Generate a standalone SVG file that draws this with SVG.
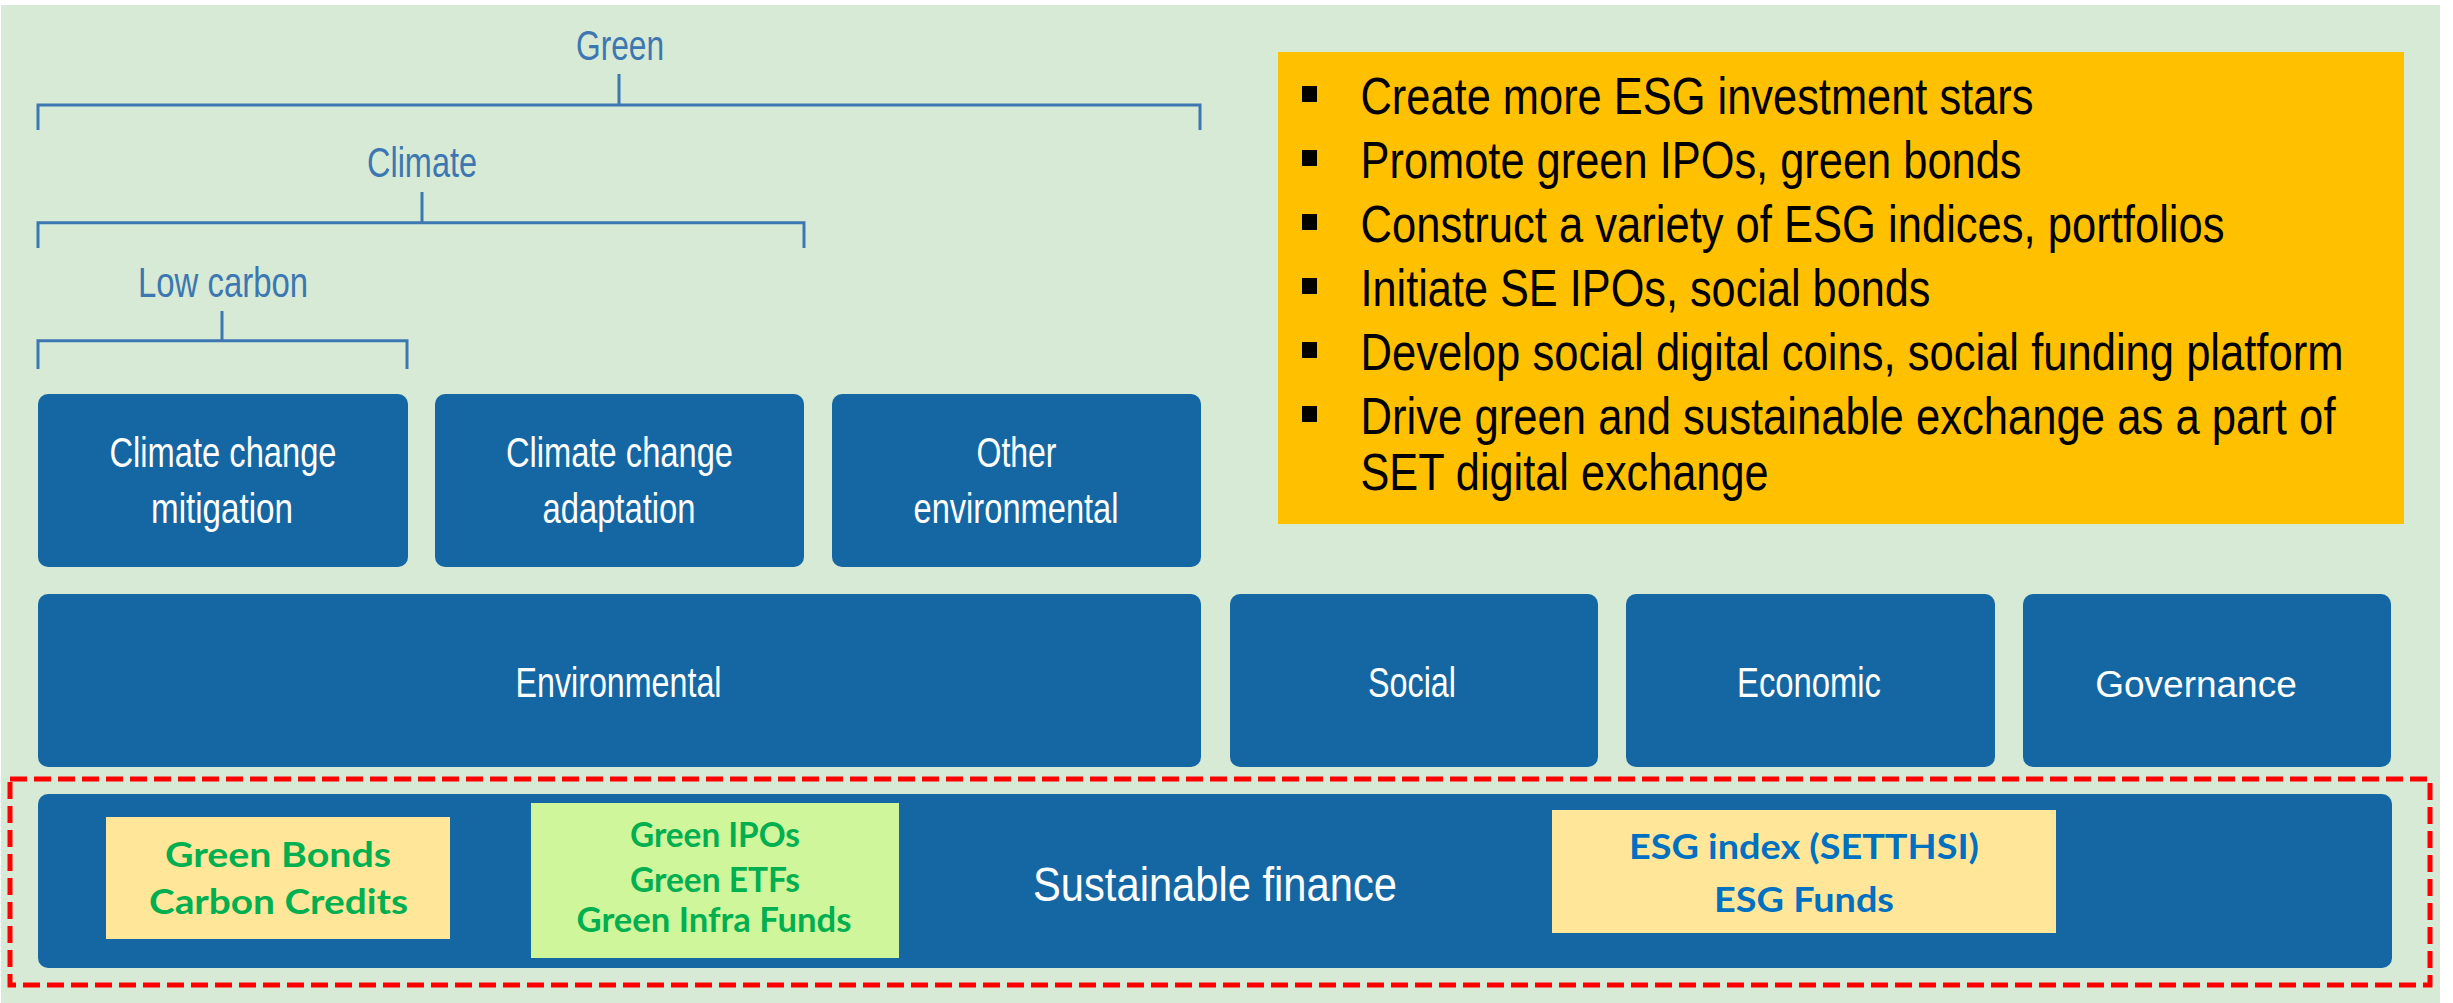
<svg xmlns="http://www.w3.org/2000/svg" width="2453" height="1003" viewBox="0 0 2453 1003">
<style>
.bg{fill:#D6EAD5}
.node{fill:#1567A4}
.conn{stroke:#3C77B1;stroke-width:3;fill:none}
.lbl{font-family:"Liberation Sans",Arial,sans-serif;font-size:43px;fill:#3C77B1;text-anchor:middle}
.nt{font-family:"Liberation Sans",Arial,sans-serif;font-size:43px;fill:#FFFFFF;text-anchor:middle}
.gov{font-family:"Liberation Sans",Arial,sans-serif;font-size:37px;fill:#FFFFFF;text-anchor:middle}
.sf{font-family:"Liberation Sans",Arial,sans-serif;font-size:49px;fill:#FFFFFF}
.bul{font-family:"Liberation Sans",Arial,sans-serif;font-size:52px;fill:#000000}
.sq{fill:#000000}
.gt{font-family:Lato,"Open Sans",sans-serif;font-weight:bold;font-size:34px;fill:#00B050;text-anchor:middle}
.bt{font-family:Lato,"Open Sans",sans-serif;font-weight:bold;font-size:34px;fill:#0070C0;text-anchor:middle}
</style>
<rect x="0" y="0" width="2453" height="1003" fill="#FFFFFF"/>
<rect class="bg" x="1" y="5" width="2439" height="998"/>

<g id="connectors">
  <path class="conn" d="M38,130 V105 H1200 V130 M619,74 V105"/>
  <path class="conn" d="M38,248 V222.7 H804 V248 M422,192 V222.7"/>
  <path class="conn" d="M38,369 V340.7 H407 V369 M222,311 V340.7"/>
</g>

<g id="label-green"><text class="lbl" x="620" y="59.5" textLength="88" lengthAdjust="spacingAndGlyphs">Green</text></g>
<g id="label-climate"><text class="lbl" x="422" y="177" textLength="110" lengthAdjust="spacingAndGlyphs">Climate</text></g>
<g id="label-lowcarbon"><text class="lbl" x="223" y="296.5" textLength="170" lengthAdjust="spacingAndGlyphs">Low carbon</text></g>

<g id="node-mitigation">
  <rect class="node" x="38" y="394" width="370" height="173" rx="10"/>
  <text class="nt" x="223" y="467.3" textLength="227" lengthAdjust="spacingAndGlyphs">Climate change</text>
  <text class="nt" x="222" y="523.3" textLength="142" lengthAdjust="spacingAndGlyphs">mitigation</text>
</g>
<g id="node-adaptation">
  <rect class="node" x="435" y="394" width="369" height="173" rx="10"/>
  <text class="nt" x="619.5" y="467.3" textLength="227" lengthAdjust="spacingAndGlyphs">Climate change</text>
  <text class="nt" x="619" y="523.3" textLength="153" lengthAdjust="spacingAndGlyphs">adaptation</text>
</g>
<g id="node-other">
  <rect class="node" x="832" y="394" width="369" height="173" rx="10"/>
  <text class="nt" x="1016.5" y="467.3" textLength="80" lengthAdjust="spacingAndGlyphs">Other</text>
  <text class="nt" x="1016" y="523.3" textLength="205" lengthAdjust="spacingAndGlyphs">environmental</text>
</g>

<g id="node-environmental">
  <rect class="node" x="38" y="594" width="1163" height="173" rx="10"/>
  <text class="nt" x="618.5" y="697" textLength="206" lengthAdjust="spacingAndGlyphs">Environmental</text>
</g>
<g id="node-social">
  <rect class="node" x="1230" y="594" width="368" height="173" rx="10"/>
  <text class="nt" x="1412" y="697" textLength="88" lengthAdjust="spacingAndGlyphs">Social</text>
</g>
<g id="node-economic">
  <rect class="node" x="1626" y="594" width="369" height="173" rx="10"/>
  <text class="nt" x="1809" y="697" textLength="144" lengthAdjust="spacingAndGlyphs">Economic</text>
</g>
<g id="node-governance">
  <rect class="node" x="2023" y="594" width="368" height="173" rx="10"/>
  <text class="gov" x="2196" y="697">Governance</text>
</g>

<g id="node-actions">
  <rect x="1278" y="52" width="1126" height="472" fill="#FFC000"/>
  <rect class="sq" x="1302" y="86" width="15" height="16"/>
  <rect class="sq" x="1302" y="150" width="15" height="16"/>
  <rect class="sq" x="1302" y="214" width="15" height="16"/>
  <rect class="sq" x="1302" y="278" width="15" height="16"/>
  <rect class="sq" x="1302" y="342" width="15" height="16"/>
  <rect class="sq" x="1302" y="406" width="15" height="16"/>
  <text class="bul" x="1360.5" y="114.3" textLength="673" lengthAdjust="spacingAndGlyphs">Create more ESG investment stars</text>
  <text class="bul" x="1360.5" y="178" textLength="661" lengthAdjust="spacingAndGlyphs">Promote green IPOs, green bonds</text>
  <text class="bul" x="1360.5" y="242" textLength="864" lengthAdjust="spacingAndGlyphs">Construct a variety of ESG indices, portfolios</text>
  <text class="bul" x="1360.5" y="306" textLength="570" lengthAdjust="spacingAndGlyphs">Initiate SE IPOs, social bonds</text>
  <text class="bul" x="1360.5" y="370" textLength="983" lengthAdjust="spacingAndGlyphs">Develop social digital coins, social funding platform</text>
  <text class="bul" x="1360.5" y="434" textLength="975" lengthAdjust="spacingAndGlyphs">Drive green and sustainable exchange as a part of</text>
  <text class="bul" x="1360.5" y="490" textLength="408" lengthAdjust="spacingAndGlyphs">SET digital exchange</text>
</g>

<g id="node-sustainable-finance">
  <rect x="10" y="779" width="2420" height="206" fill="none" stroke="#FF0000" stroke-width="5" stroke-dasharray="17 7"/>
  <rect class="node" x="38" y="794" width="2354" height="174" rx="10"/>
  <text class="sf" x="1033" y="901" textLength="364" lengthAdjust="spacingAndGlyphs">Sustainable finance</text>
</g>
<g id="node-green-bonds">
  <rect x="106" y="817" width="344" height="122" fill="#FFE699"/>
  <text class="gt" x="278" y="867" textLength="226" lengthAdjust="spacingAndGlyphs">Green Bonds</text>
  <text class="gt" x="278.5" y="914" textLength="259" lengthAdjust="spacingAndGlyphs">Carbon Credits</text>
</g>
<g id="node-green-ipos">
  <rect x="531" y="803" width="368" height="155" fill="#D0F69C"/>
  <text class="gt" x="715" y="847" textLength="170" lengthAdjust="spacingAndGlyphs">Green IPOs</text>
  <text class="gt" x="715" y="891.5" textLength="170" lengthAdjust="spacingAndGlyphs">Green ETFs</text>
  <text class="gt" x="714" y="932" textLength="275" lengthAdjust="spacingAndGlyphs">Green Infra Funds</text>
</g>
<g id="node-esg">
  <rect x="1552" y="810" width="504" height="123" fill="#FFE699"/>
  <text class="bt" x="1804" y="859" textLength="350" lengthAdjust="spacingAndGlyphs">ESG index (SETTHSI)</text>
  <text class="bt" x="1804" y="911.5" textLength="180" lengthAdjust="spacingAndGlyphs">ESG Funds</text>
</g>
</svg>
